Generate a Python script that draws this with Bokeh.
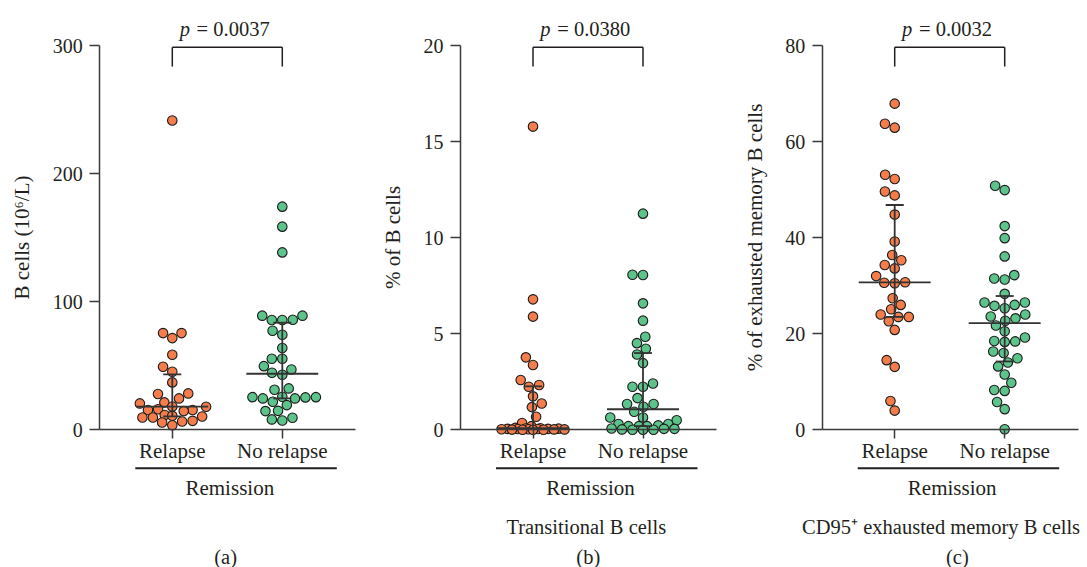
import numpy as np
from bokeh.plotting import figure
from bokeh.layouts import row
from bokeh.models import Range1d, FixedTicker, Label
from bokeh.embed import file_html
from bokeh.resources import INLINE

# ---------------- data ----------------
groups = ["Relapse", "No relapse"]

a_relapse = [241.4, 75.5, 75.5, 71.6, 58.6, 49.2, 45.3, 37.0, 28.4, 27.9, 24.5, 21.4,
             20.6, 18.2, 18.0, 16.1, 15.4, 15.4, 14.6, 11.5, 10.9, 10.4, 9.6, 9.6,
             7.0, 6.5, 5.7, 3.6]
a_norelapse = [174.2, 158.6, 138.5, 89.1, 89.1, 85.9, 85.7, 85.7, 77.3, 74.2, 63.8, 55.5,
               55.5, 49.7, 47.1, 44.5, 43.0, 32.3, 31.3, 25.8, 25.5, 25.5, 25.3, 24.5,
               24.5, 21.9, 19.3, 14.8, 14.6, 9.4, 8.1, 7.3]

b_relapse = [15.78, 6.79, 5.89, 3.77, 3.37, 2.59, 2.33, 2.24, 1.74, 1.37, 1.18, 0.68,
             0.35, 0.19, 0.10, 0.08, 0.07, 0.06, 0.05, 0.05, 0.04, 0.04, 0.03, 0.03,
             0.02, 0.02, 0.01, 0.0, 0.0, 0.0]
b_norelapse = [11.25, 8.07, 8.06, 6.58, 5.68, 4.84, 4.51, 4.22, 3.92, 3.47, 2.41, 2.24,
               2.24, 1.65, 1.34, 1.34, 1.20, 0.94, 0.64, 0.64, 0.50, 0.30, 0.30, 0.23,
               0.19, 0.19, 0.19, 0.07, 0.05, 0.05, 0.02, 0.0, 0.0, 0.0]

c_relapse = [67.9, 63.7, 62.9, 53.1, 52.2, 49.6, 48.8, 44.8, 39.2, 36.4, 35.3, 34.3,
             33.6, 32.0, 30.7, 30.6, 30.5, 27.4, 26.0, 25.1, 24.0, 23.5, 23.5, 22.6,
             20.8, 14.5, 13.1, 6.0, 4.0]
c_norelapse = [50.8, 49.9, 42.4, 39.9, 36.1, 32.2, 31.5, 31.3, 28.3, 26.5, 26.5, 26.0,
               25.8, 25.3, 24.0, 23.6, 23.2, 22.7, 21.7, 20.5, 19.2, 18.5, 18.4, 18.3,
               16.3, 16.0, 14.9, 14.0, 13.2, 11.5, 9.8, 8.3, 8.1, 5.8, 4.3, 0.1]

a_yticks = [0, 100, 200, 300]
b_yticks = [0, 5, 10, 15, 20]
c_yticks = [0, 20, 40, 60, 80]

a_ylabel = "B cells (10\u2076/L)"
b_ylabel = "% of B cells"
c_ylabel = "% of exhausted memory B cells"

p_values = ["0.0037", "0.0380", "0.0032"]
group_title = "Remission"
subtitles = [None, "Transitional B cells", "CD95\u207a exhausted memory B cells"]
letters = ["(a)", "(b)", "(c)"]

# ---------------- style / layout ----------------
FONT = "Liberation Serif"
TXT = "#231f20"
AXC = "#3a3a3a"
ORANGE = "#F47D4B"
GREEN = "#5CC48A"
PX_X = 110.0          # pixels per category unit
AXIS_W = 256          # length of the x axis line in pixels
Y0 = 429.3            # page y of value zero
YTOP = 45.0           # page y of the top tick
H = 567


def swarm(vals, ppu, d=10.5, max_half=34.0):
    vals = np.asarray(vals, float)
    order = np.argsort(vals, kind="stable")
    placed = []
    offs = np.zeros(len(vals))
    for i in order:
        y = vals[i] * ppu
        dd = d
        while True:
            near = [(px, py) for px, py in placed if abs(py - y) < dd]
            cands = [0.0]
            for px, py in near:
                h = np.sqrt(max(dd * dd - (py - y) ** 2, 0.0))
                cands += [px - h, px + h]
            cands = sorted(cands, key=lambda c: (round(abs(c), 6), c))
            ok = [c for c in cands if abs(c) <= max_half + 1e-9 and
                  all((c - px) ** 2 + (py - y) ** 2 >= dd * dd - 1e-6 for px, py in near)]
            if ok:
                x = ok[0]
                break
            dd *= 0.85
        placed.append((x, y))
        offs[i] = x
    return offs / PX_X


def make_panel(vr, vn, ymax, yticks, ylabel, pval, subtitle, letter,
               fig_left, width, axis_page_x, letter_off):
    ppu = (Y0 - YTOP) / ymax
    cat1_page = axis_page_x + 72.5
    ax_x = 1 - 72.5 / PX_X                       # data x of the y axis
    xs0 = 1 - (cat1_page - fig_left) / PX_X
    p = figure(width=width, height=H, output_backend="svg", toolbar_location=None,
               x_range=Range1d(xs0, xs0 + width / PX_X),
               y_range=Range1d(-(H - Y0) / ppu, Y0 / ppu),
               min_border=0)
    p.outline_line_color = None
    p.grid.visible = False
    p.background_fill_color = "white"
    p.border_fill_color = "white"

    def dy(page_y):
        return (Y0 - page_y) / ppu

    def cx(off):
        return 1 + off / PX_X

    # y axis
    ya = p.yaxis[0]
    ya.fixed_location = ax_x
    ya.ticker = FixedTicker(ticks=yticks)
    ya.bounds = (0, ymax)
    ya.axis_line_width = 1.5
    ya.axis_line_color = AXC
    ya.major_tick_line_color = AXC
    ya.major_tick_line_width = 1.5
    ya.major_tick_out = 10
    ya.major_tick_in = 0
    ya.minor_tick_out = 0
    ya.minor_tick_in = 0
    ya.major_label_text_font = FONT
    ya.major_label_text_font_size = "20px"
    ya.major_label_text_color = TXT
    ya.major_label_standoff = 7
    ya.axis_label = ylabel
    ya.axis_label_text_font = FONT
    ya.axis_label_text_font_size = "21px"
    ya.axis_label_text_font_style = "normal"
    ya.axis_label_text_color = TXT
    ya.axis_label_standoff = 16

    # x axis at zero
    xa = p.xaxis[0]
    xa.fixed_location = 0
    xa.bounds = (ax_x, ax_x + AXIS_W / PX_X)
    xa.ticker = FixedTicker(ticks=[1, 2])
    xa.major_label_overrides = {1: groups[0], 2: groups[1]}
    xa.axis_line_width = 1.5
    xa.axis_line_color = AXC
    xa.major_tick_in = 0
    xa.major_tick_out = 9
    xa.major_tick_line_color = AXC
    xa.major_tick_line_width = 1.5
    xa.minor_tick_out = 0
    xa.minor_tick_in = 0
    xa.major_label_text_font = FONT
    xa.major_label_text_font_size = "21px"
    xa.major_label_text_color = TXT
    xa.major_label_standoff = 0

    # points
    for k, (vals, col) in enumerate([(vr, ORANGE), (vn, GREEN)]):
        xs = (k + 1) + swarm(vals, ppu)
        p.scatter(xs, vals, size=9.5, fill_color=col, line_color="#1a1a1a",
                  line_width=1.1, marker="circle")

    # median and interquartile range
    for k, vals in enumerate([vr, vn]):
        c = k + 1
        q1, med, q3 = np.percentile(vals, [25, 50, 75], method="weibull")
        p.segment(x0=[c - 0.327, c, c - 0.082, c - 0.082],
                  y0=[med, q1, q1, q3],
                  x1=[c + 0.327, c, c + 0.082, c + 0.082],
                  y1=[med, q3, q1, q3],
                  line_color="#333333", line_width=1.8)

    # significance bracket and p value
    top, bot = dy(46.7), dy(66)
    p.segment(x0=[1, 1, 2], y0=[top, top, top], x1=[2, 1, 2], y1=[top, bot, bot],
              line_color=TXT, line_width=1.5)
    p.add_layout(Label(x=cx(17.6), y=dy(28.3), text="p", text_align="right",
                       text_baseline="alphabetic", text_font=FONT,
                       text_font_style="italic", text_font_size="20.5px", text_color=TXT))
    p.add_layout(Label(x=cx(24.3), y=dy(28.3), text="= " + pval, text_align="left",
                       text_baseline="alphabetic", text_font=FONT,
                       text_font_size="20.5px", text_color=TXT))

    # group bar and texts below
    p.segment(x0=[cx(-37)], y0=[dy(467.7)], x1=[cx(164.5)], y1=[dy(467.7)],
              line_color=TXT, line_width=2)
    p.add_layout(Label(x=cx(57.5), y=dy(487.5), text=group_title, text_align="center",
                       text_baseline="alphabetic", text_font=FONT,
                       text_font_size="21px", text_color=TXT))
    if subtitle:
        p.add_layout(Label(x=cx(subtitle[1]), y=dy(526), text=subtitle[0],
                           text_align="center", text_baseline="alphabetic",
                           text_font=FONT, text_font_size="20.5px", text_color=TXT))
    p.add_layout(Label(x=cx(letter_off), y=dy(556), text=letter, text_align="center",
                       text_baseline="alphabetic", text_font=FONT,
                       text_font_size="20.5px", text_color=TXT))
    return p


pa = make_panel(a_relapse, a_norelapse, 300, a_yticks, a_ylabel, p_values[0], None,
                letters[0], 0, 375, 99.3, 53.3)
pb = make_panel(b_relapse, b_norelapse, 20, b_yticks, b_ylabel, p_values[1],
                (subtitles[1], 53.3), letters[1], 375, 362, 460.0, 55.3)
pc = make_panel(c_relapse, c_norelapse, 80, c_yticks, c_ylabel, p_values[2],
                (subtitles[2], 46.4), letters[2], 737, 350, 821.7, 62.7)

layout = row(pa, pb, pc)
open("out.html", "w").write(file_html(layout, INLINE))
